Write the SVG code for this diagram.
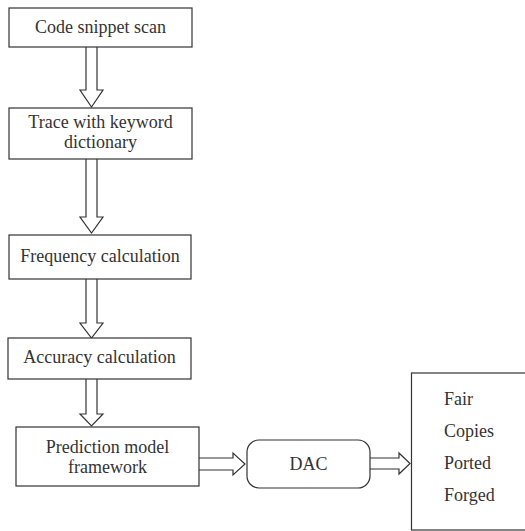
<svg xmlns="http://www.w3.org/2000/svg" width="525" height="531" viewBox="0 0 525 531">
  <style>
    .box { fill: #ffffff; stroke: #333333; stroke-width: 1.2; }
    .arrow { fill: #ffffff; stroke: #333333; stroke-width: 1.2; stroke-linejoin: miter; }
    text { font-size: 18px; fill: #333333; }
    .c { text-anchor: middle; }
  </style>
  <rect width="525" height="531" fill="#ffffff"/>

  <g id="connectors">
    <!-- hollow block arrows between the steps -->
    <path class="arrow" d="M86,47 V90 H80 L91.5,107 L103,90 H97 V47"/>
    <path class="arrow" d="M86,159 V217 H80 L91.5,233 L103,217 H97 V159"/>
    <path class="arrow" d="M86,279 V323 H80 L91.5,338 L103,323 H97 V279"/>
    <path class="arrow" d="M86,379 V414 H80 L91.5,426 L103,414 H97 V379"/>
    <path class="arrow" d="M199,458 H233 V453 L245,464 L233,475 V470 H199"/>
    <path class="arrow" d="M370,458 H399 V453 L410,463.5 L399,474 V469 H370"/>
  </g>

  <g id="labels-font" font-family="Liberation Serif, DejaVu Serif, serif">
    <g id="code-snippet-scan">
      <rect class="box" x="9" y="8" width="183" height="39"/>
      <text class="c" x="100.5" y="33">Code snippet scan</text>
    </g>

    <g id="trace-keyword">
      <rect class="box" x="9" y="108" width="183" height="51"/>
      <text class="c" x="100.5" y="128">Trace with keyword</text>
      <text class="c" x="100.5" y="148">dictionary</text>
    </g>

    <g id="frequency-calculation">
      <rect class="box" x="9" y="235" width="182" height="44"/>
      <text class="c" x="100" y="262">Frequency calculation</text>
    </g>

    <g id="accuracy-calculation">
      <rect class="box" x="8" y="338" width="183" height="41"/>
      <text class="c" x="99.5" y="363">Accuracy calculation</text>
    </g>

    <g id="prediction-model">
      <rect class="box" x="16" y="427" width="183" height="59"/>
      <text class="c" x="107.5" y="453">Prediction model</text>
      <text class="c" x="107.5" y="473">framework</text>
    </g>

    <g id="dac">
      <rect class="box" x="247" y="440" width="123" height="48" rx="12" ry="12"/>
      <text class="c" x="308.5" y="470">DAC</text>
    </g>

    <g id="classes">
      <rect class="box" x="411.5" y="373" width="120" height="157"/>
      <text x="444" y="405">Fair</text>
      <text x="444" y="437">Copies</text>
      <text x="444" y="469">Ported</text>
      <text x="444" y="501">Forged</text>
    </g>
  </g>
</svg>
